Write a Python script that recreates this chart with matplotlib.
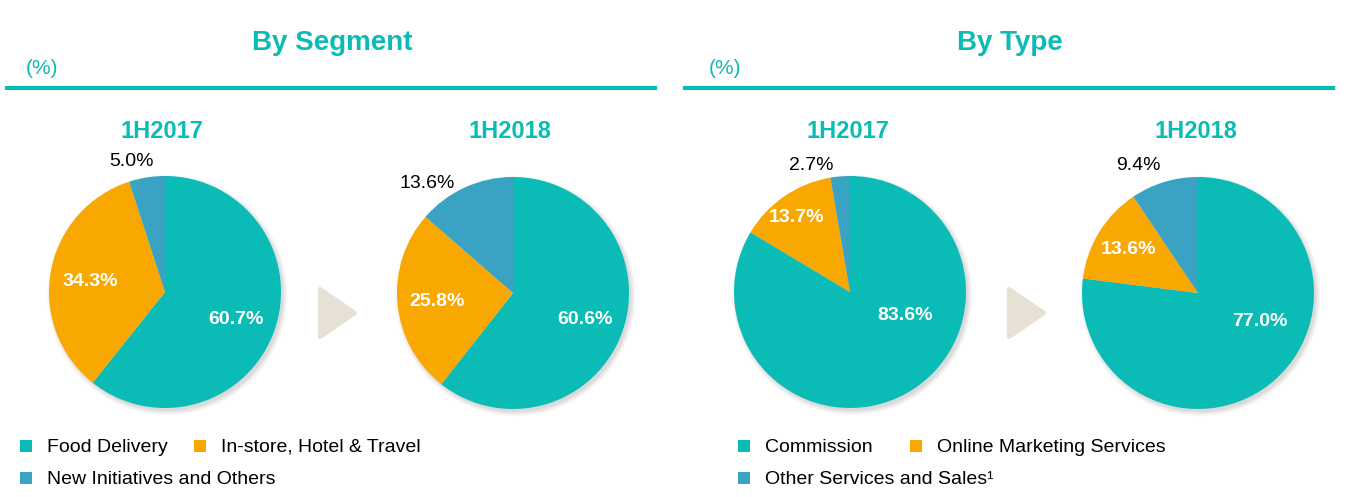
import matplotlib.pyplot as plt
from matplotlib.patches import Circle, Polygon

plt.rcParams['font.family'] = ['Liberation Sans', 'DejaVu Sans']

W, H = 1347, 497

TEAL = '#0BBBB5'
ORANGE = '#F8A800'
BLUE = '#3AA3C3'
colors = [TEAL, ORANGE, BLUE]

# data
seg_names = ['Food Delivery', 'In-store, Hotel & Travel', 'New Initiatives and Others']
seg_2017 = [60.7, 34.3, 5.0]
seg_2018 = [60.6, 25.8, 13.6]
type_names = ['Commission', 'Online Marketing Services', 'Other Services and Sales\u00b9']
type_2017 = [83.6, 13.7, 2.7]
type_2018 = [77.0, 13.6, 9.4]
periods = ['1H2017', '1H2018']

# layout (pixels, y from top): pie centre and label offsets from it
R = 116
pies = [
    (seg_2017, (165, 292), [(71, 27), (-75, -11), (-34, -130)]),
    (seg_2018, (513, 293), [(72, 26), (-76, 8), (-86, -109)]),
    (type_2017, (850, 292), [(55, 24), (-53, -75), (-39, -127)]),
    (type_2018, (1198, 293), [(62, 28), (-70, -43), (-60, -128)]),
]
# last slice label sits outside the pie, in black
inside = [True, True, False]


def fx(x):
    return x / W


def fy(y):
    return 1 - y / H


fig = plt.figure(figsize=(W / 100, H / 100), dpi=100)

half = 1.3
for vals, (cx, cy), offs in pies:
    size = 2 * half * R
    ax = fig.add_axes([fx(cx - size / 2), fy(cy + size / 2), size / W, size / H])
    # soft shadow
    for i, a in enumerate([0.04, 0.05, 0.06, 0.07]):
        ax.add_patch(Circle((0.02, -0.025), 1.0 + 0.012 * (3 - i), color='#555555',
                            alpha=a, lw=0, zorder=0))
    ax.pie(vals, colors=colors, startangle=90, counterclock=False, radius=1,
           wedgeprops=dict(linewidth=0))
    ax.set_xlim(-half, half)
    ax.set_ylim(-half, half)
    ax.set_aspect('equal')
    ax.axis('off')
    for j, v in enumerate(vals):
        dx, dy = offs[j]
        if inside[j]:
            ax.text(dx / R, -dy / R, '%.1f%%' % v, color='white', fontsize=14,
                    fontweight='bold', ha='center', va='center')
        else:
            ax.text(dx / R, -dy / R, '%.1f%%' % v, color='black', fontsize=14,
                    ha='center', va='center')

# headers
for title, tx, px, x0, x1 in [('By Segment', 332, 42, 7, 655), ('By Type', 1010, 725, 685, 1333)]:
    fig.text(fx(tx), fy(43), title, color=TEAL, fontsize=20, fontweight='bold',
             ha='center', va='center')
    fig.text(fx(px), fy(68), '(%)', color=TEAL, fontsize=15, ha='center', va='center')
    fig.add_artist(plt.Line2D([fx(x0), fx(x1)], [fy(88), fy(88)], color=TEAL, lw=3))

for x, p in zip([162, 510, 848, 1196], periods * 2):
    fig.text(fx(x), fy(132), p, color=TEAL, fontsize=17, fontweight='bold',
             ha='center', va='center')

# arrows between the pies
for x0 in [318, 1007]:
    tri = Polygon([(fx(x0 + 2), fy(289)), (fx(x0 + 2), fy(337)), (fx(x0 + 37), fy(313))],
                  closed=True, transform=fig.transFigure, facecolor='#E7E0D4',
                  edgecolor='#E7E0D4', lw=3, joinstyle='round')
    fig.add_artist(tri)


# legends
def legend_item(x, y, color, text):
    sq = 12
    fig.add_artist(plt.Rectangle((fx(x), fy(y + sq / 2)), sq / W, sq / H,
                                 transform=fig.transFigure, color=color, lw=0))
    fig.text(fx(x + 27), fy(y + 1), text, fontsize=14, ha='left', va='center')


legend_item(20, 446, colors[0], seg_names[0])
legend_item(194, 446, colors[1], seg_names[1])
legend_item(20, 478, colors[2], seg_names[2])
legend_item(738, 446, colors[0], type_names[0])
legend_item(910, 446, colors[1], type_names[1])
legend_item(738, 478, colors[2], type_names[2])

fig.savefig('out.png', dpi=100)
